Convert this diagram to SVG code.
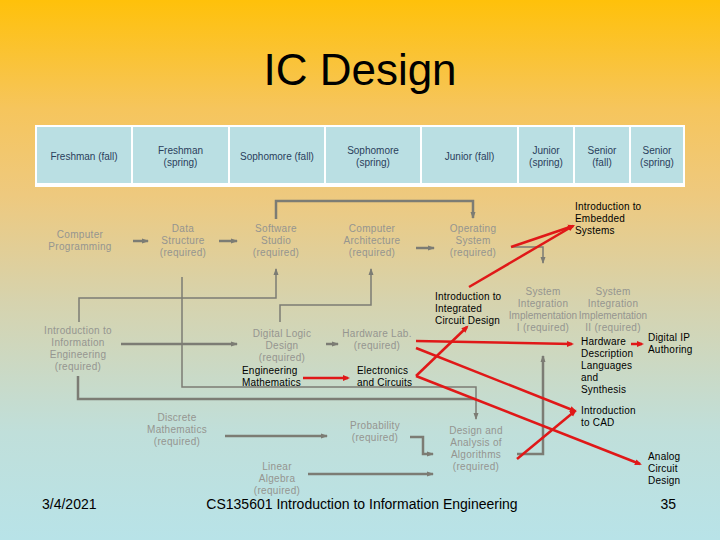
<svg xmlns="http://www.w3.org/2000/svg" width="720" height="540" viewBox="0 0 720 540">
<defs>
<linearGradient id="bg" x1="0" y1="0" x2="0" y2="1">
<stop offset="0" stop-color="#FFC10A"/>
<stop offset="0.2" stop-color="#F6C55C"/>
<stop offset="0.36" stop-color="#EEC97E"/>
<stop offset="0.56" stop-color="#D6D3AE"/>
<stop offset="0.8" stop-color="#C0DFDA"/>
<stop offset="1" stop-color="#B8E3E8"/>
</linearGradient>
<marker id="ga" markerUnits="userSpaceOnUse" markerWidth="8" markerHeight="8" refX="6" refY="4" orient="auto">
<path d="M0,1.5 L7,4 L0,6.5 z" fill="#7C7C74"/>
</marker>
<marker id="ra" markerUnits="userSpaceOnUse" markerWidth="8" markerHeight="8" refX="5" refY="4" orient="auto">
<path d="M0,1 L7,4 L0,7 z" fill="#E01818"/>
</marker>
<style>
.cell{fill:#BADFE3}
.hd{font-family:"Liberation Sans",Arial,sans-serif;font-size:10px;fill:#2A405C;text-anchor:middle}
.g{font-family:"Liberation Sans",Arial,sans-serif;font-size:10px;fill:#959590;text-anchor:middle;letter-spacing:0.3px}
.gs{letter-spacing:0px}
.b{font-family:"Liberation Sans",Arial,sans-serif;font-size:10px;fill:#000;letter-spacing:0.2px}
.gl{fill:none;stroke:#7C7C74;stroke-width:2.5}
.gt{fill:none;stroke:#7C7C74;stroke-width:1.5}
.rl{fill:none;stroke:#E01818;stroke-width:2.5}
.ft{font-family:"Liberation Sans",Arial,sans-serif;font-size:14px;fill:#000}
</style>
</defs>
<rect width="720" height="540" fill="url(#bg)"/>
<text x="360" y="85" text-anchor="middle" font-family="Liberation Sans, Arial, sans-serif" font-size="44" fill="#000">IC Design</text>

<g id="header">
<rect x="35" y="125" width="650" height="62" fill="#FFFFFF"/>
<rect class="cell" x="37" y="127" width="94" height="56"/>
<rect class="cell" x="133" y="127" width="95" height="56"/>
<rect class="cell" x="230" y="127" width="94" height="56"/>
<rect class="cell" x="326" y="127" width="94" height="56"/>
<rect class="cell" x="422" y="127" width="95" height="56"/>
<rect class="cell" x="519" y="127" width="54" height="56"/>
<rect class="cell" x="575" y="127" width="54" height="56"/>
<rect class="cell" x="631" y="127" width="52" height="56"/>
<text class="hd" x="84" y="159.5">Freshman (fall)</text>
<text class="hd" x="180.5" y="154">Freshman</text><text class="hd" x="180.5" y="166">(spring)</text>
<text class="hd" x="277" y="159.5">Sophomore (fall)</text>
<text class="hd" x="373" y="154">Sophomore</text><text class="hd" x="373" y="166">(spring)</text>
<text class="hd" x="469.5" y="159.5">Junior (fall)</text>
<text class="hd" x="546" y="154">Junior</text><text class="hd" x="546" y="166">(spring)</text>
<text class="hd" x="602" y="154">Senior</text><text class="hd" x="602" y="166">(fall)</text>
<text class="hd" x="657" y="154">Senior</text><text class="hd" x="657" y="166">(spring)</text>
</g>

<g id="connectors">
<line class="gl" x1="133" y1="241" x2="148" y2="241" marker-end="url(#ga)"/>
<line class="gl" x1="219" y1="241" x2="237" y2="241" marker-end="url(#ga)"/>
<line class="gl" x1="416" y1="248" x2="434" y2="248" marker-end="url(#ga)"/>
<path class="gl" d="M276 219 V201 H473 V218" marker-end="url(#ga)"/>
<path class="gt" d="M79 322 V298 H276 V269" marker-end="url(#ga)"/>
<path class="gt" d="M280 322 V305 H371 V269" marker-end="url(#ga)"/>
<path class="gt" d="M512 247 H543 V263" marker-end="url(#ga)"/>
<line class="gl" x1="121" y1="344" x2="237" y2="344" marker-end="url(#ga)"/>
<line class="gl" x1="326" y1="344" x2="338" y2="344" marker-end="url(#ga)"/>
<path class="gt" d="M182 277 V387 H476 V419" marker-end="url(#ga)"/>
<path class="gl" d="M78 376 V399 H476"/>
<line class="gl" x1="225" y1="436" x2="327" y2="436" marker-end="url(#ga)"/>
<path class="gl" d="M410 437 H423 V454 H433" marker-end="url(#ga)"/>
<line class="gl" x1="308" y1="474" x2="433" y2="474" marker-end="url(#ga)"/>
<path class="gl" d="M517 454 H543 V356" marker-end="url(#ga)"/>

<line class="rl" x1="511" y1="247" x2="573" y2="226" marker-end="url(#ra)"/>
<line class="rl" x1="469" y1="287" x2="573" y2="226" marker-end="url(#ra)"/>
<line class="rl" x1="303" y1="378" x2="348" y2="378" marker-end="url(#ra)"/>
<line class="rl" x1="416" y1="376" x2="467" y2="327" marker-end="url(#ra)"/>
<line class="rl" x1="416" y1="376" x2="640" y2="464" marker-end="url(#ra)"/>
<line class="rl" x1="416" y1="341" x2="572" y2="344" marker-end="url(#ra)"/>
<line class="rl" x1="416" y1="348" x2="575" y2="411" marker-end="url(#ra)"/>
<line class="rl" x1="517" y1="459" x2="575" y2="411" marker-end="url(#ra)"/>
<line class="rl" x1="631" y1="344" x2="642" y2="344" marker-end="url(#ra)"/>
</g>

<g id="computer-programming"><text class="g" x="80" y="237.5">Computer</text><text class="g" x="80" y="249.5">Programming</text></g>
<g id="data-structure"><text class="g" x="183" y="232">Data</text><text class="g" x="183" y="244">Structure</text><text class="g" x="183" y="256">(required)</text></g>
<g id="software-studio"><text class="g" x="276" y="232">Software</text><text class="g" x="276" y="244">Studio</text><text class="g" x="276" y="256">(required)</text></g>
<g id="computer-architecture"><text class="g" x="372" y="232">Computer</text><text class="g" x="372" y="244">Architecture</text><text class="g" x="372" y="256">(required)</text></g>
<g id="operating-system"><text class="g" x="473" y="232">Operating</text><text class="g" x="473" y="244">System</text><text class="g" x="473" y="256">(required)</text></g>
<g id="intro-info-eng"><text class="g" x="78" y="334">Introduction to</text><text class="g" x="78" y="346">Information</text><text class="g" x="78" y="358">Engineering</text><text class="g" x="78" y="370">(required)</text></g>
<g id="digital-logic"><text class="g" x="282" y="337">Digital Logic</text><text class="g" x="282" y="349">Design</text><text class="g" x="282" y="361">(required)</text></g>
<g id="hardware-lab"><text class="g" x="377" y="337">Hardware Lab.</text><text class="g" x="377" y="349">(required)</text></g>
<g id="discrete-math"><text class="g" x="177" y="421">Discrete</text><text class="g" x="177" y="433">Mathematics</text><text class="g" x="177" y="445">(required)</text></g>
<g id="probability"><text class="g" x="375" y="429">Probability</text><text class="g" x="375" y="441">(required)</text></g>
<g id="algorithms"><text class="g" x="476" y="434">Design and</text><text class="g" x="476" y="446">Analysis of</text><text class="g" x="476" y="458">Algorithms</text><text class="g" x="476" y="470">(required)</text></g>
<g id="linear-algebra"><text class="g" x="277" y="470">Linear</text><text class="g" x="277" y="482">Algebra</text><text class="g" x="277" y="494">(required)</text></g>
<g id="sys-int-1"><text class="g" x="543" y="295">System</text><text class="g" x="543" y="307">Integration</text><text class="g gs" x="543" y="319">Implementation</text><text class="g" x="543" y="331">I (required)</text></g>
<g id="sys-int-2"><text class="g" x="613" y="295">System</text><text class="g" x="613" y="307">Integration</text><text class="g gs" x="613" y="319">Implementation</text><text class="g" x="613" y="331">II (required)</text></g>

<g id="embedded"><text class="b" x="575" y="210">Introduction to</text><text class="b" x="575" y="222">Embedded</text><text class="b" x="575" y="234">Systems</text></g>
<g id="ic-design"><text class="b" x="435" y="300">Introduction to</text><text class="b" x="435" y="312">Integrated</text><text class="b" x="435" y="324">Circuit Design</text></g>
<g id="eng-math"><text class="b" x="242" y="374">Engineering</text><text class="b" x="242" y="386">Mathematics</text></g>
<g id="electronics"><text class="b" x="357" y="374">Electronics</text><text class="b" x="357" y="386">and Circuits</text></g>
<g id="hdl"><text class="b" x="581" y="345">Hardware</text><text class="b" x="581" y="357">Description</text><text class="b" x="581" y="369">Languages</text><text class="b" x="581" y="381">and</text><text class="b" x="581" y="393">Synthesis</text></g>
<g id="digital-ip"><text class="b" x="648" y="341">Digital IP</text><text class="b" x="648" y="353">Authoring</text></g>
<g id="cad"><text class="b" x="581" y="413.5">Introduction</text><text class="b" x="581" y="425.5">to CAD</text></g>
<g id="analog"><text class="b" x="648" y="459.5">Analog</text><text class="b" x="648" y="471.5">Circuit</text><text class="b" x="648" y="483.5">Design</text></g>

<g id="footer">
<text class="ft" x="42" y="509">3/4/2021</text>
<text class="ft" x="362" y="509" text-anchor="middle">CS135601 Introduction to Information Engineering</text>
<text class="ft" x="676" y="509" text-anchor="end">35</text>
</g>
</svg>
